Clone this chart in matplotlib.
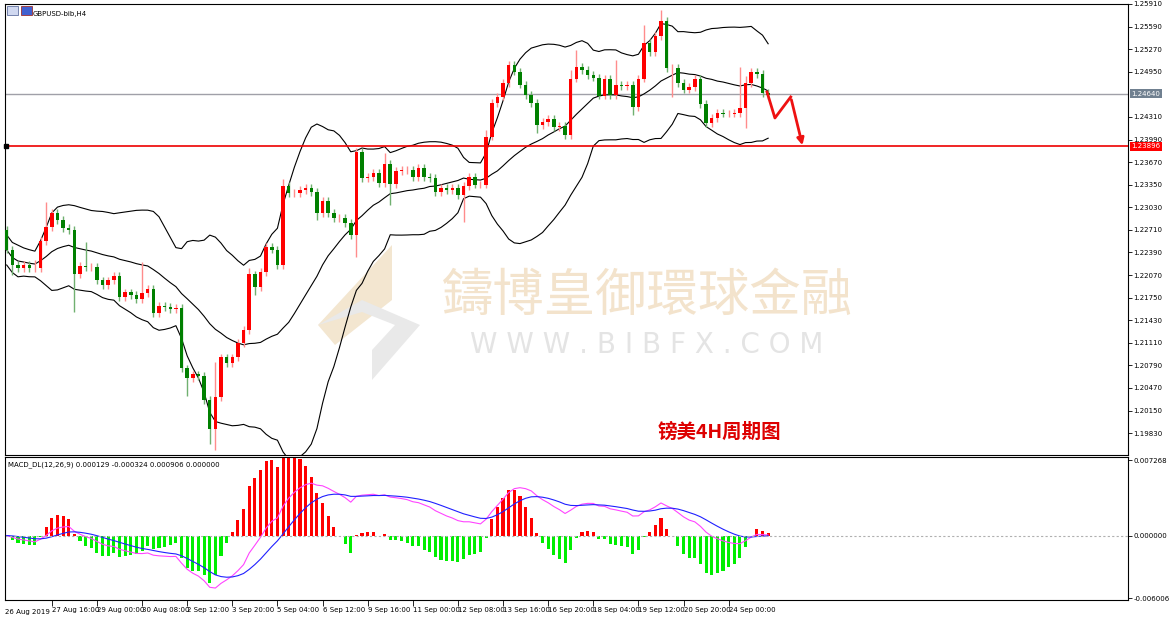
import matplotlib
matplotlib.use("Agg")
import matplotlib.pyplot as plt
from matplotlib.patches import Polygon
import numpy as np
import pandas as pd

first_open = 1.22708
closes = [1.22425,1.22212,1.22169,1.22212,1.22169,1.22169,1.22552,1.22750,1.22949,1.22850,
          1.22736,1.22708,1.22084,1.22198,1.22184,1.22184,1.21999,1.21929,1.21999,1.22056,
          1.21759,1.21829,1.21787,1.21730,1.21815,1.21872,1.21532,1.21631,1.21617,1.21588,
          1.21603,1.20752,1.20611,1.20667,1.20639,1.20299,1.19888,1.20342,1.20908,1.20823,
          1.20908,1.21107,1.21291,1.22084,1.21900,1.22113,1.22467,1.22425,1.22212,1.23331,
          1.23232,1.23232,1.23275,1.23303,1.23246,1.22949,1.23119,1.22949,1.22878,1.22878,
          1.22807,1.22637,1.23813,1.23445,1.23459,1.23516,1.23374,1.23643,1.23360,1.23544,
          1.23558,1.23558,1.23459,1.23586,1.23459,1.23445,1.23246,1.23303,1.23275,1.23303,
          1.23204,1.23331,1.23459,1.23346,1.23346,1.24026,1.24507,1.24593,1.24791,1.25046,
          1.24947,1.24763,1.24621,1.24507,1.24196,1.24238,1.24281,1.24167,1.24182,1.24054,
          1.24848,1.25018,1.24975,1.24904,1.24862,1.24607,1.24848,1.24621,1.24763,1.24748,
          1.24763,1.24451,1.24848,1.25358,1.25230,1.25457,1.25669,1.25003,1.25003,1.24791,
          1.24692,1.24734,1.24848,1.24493,1.24224,1.24295,1.24366,1.24352,1.24352,1.24366,
          1.24437,1.24791,1.24947,1.24918,1.24649,1.24621]
# wick lengths in pips (read approximately)
upper_wick = {7: 35, 14: 34, 24: 44, 37: 49, 43: 8, 49: 10, 62: 6, 67: 15, 85: 10,
              101: 24, 108: 35, 113: 25, 116: 15, 130: 58, 131: 10, 5: 12, 100: 12}
lower_wick = {12: 54, 32: 25, 36: 21, 37: 30, 62: 31, 68: 30, 81: 38, 118: 41,
              131: 28, 1: 14, 44: 12, 55: 10, 94: 12, 111: 12}
default_wick = 5

tick_idx = [8 + 8 * k for k in range(16)]
tick_labels = ["27 Aug 16:00", "29 Aug 00:00", "30 Aug 08:00", "2 Sep 12:00", "3 Sep 20:00",
               "5 Sep 04:00", "6 Sep 12:00", "9 Sep 16:00", "11 Sep 00:00", "12 Sep 08:00",
               "13 Sep 16:00", "16 Sep 20:00", "18 Sep 04:00", "19 Sep 12:00", "20 Sep 20:00",
               "24 Sep 00:00"]
price_ticks = [1.25910,1.25590,1.25270,1.24950,1.24310,1.23990,1.23670,1.23350,1.23030,
               1.22710,1.22390,1.22070,1.21750,1.21430,1.21110,1.20790,1.20470,1.20150,1.19830]
current_price = 1.24640
level_price = 1.23896
arrow_x = [134.8, 136.2, 139.0, 141.2]
arrow_y = [1.24663, 1.24295, 1.24593, 1.23870]

n = len(closes)
opens = [first_open] + closes[:-1]
highs = [max(o, c) + upper_wick.get(i, default_wick) * 1e-4 for i, (o, c) in enumerate(zip(opens, closes))]
lows = [min(o, c) - lower_wick.get(i, default_wick) * 1e-4 for i, (o, c) in enumerate(zip(opens, closes))]

s = pd.Series(closes)
mid = s.rolling(20, min_periods=1).mean()
sd = s.rolling(20, min_periods=2).std(ddof=0).bfill()
upper = mid + 2 * sd
lower = mid - 2 * sd
ema12 = s.ewm(span=12, adjust=False).mean()
ema26 = s.ewm(span=26, adjust=False).mean()
macd = ema12 - ema26
signal = macd.ewm(span=9, adjust=False).mean()
hist = 3 * (macd - signal)

W, H = 1170, 621
fig = plt.figure(figsize=(W / 100, H / 100), dpi=100)
fig.patch.set_facecolor("white")
ax = fig.add_axes([5 / W, (H - 455) / H, 1123 / W, 451 / H])
ax2 = fig.add_axes([5 / W, (H - 600) / H, 1123 / W, 143 / H])
xmax = 198.8
for a in (ax, ax2):
    a.set_xlim(-0.3, xmax)
    for sp in a.spines.values():
        sp.set_linewidth(0.8)
        sp.set_color("black")

ax.set_ylim(1.19520, 1.25910)
x = np.arange(n)
for i in range(n):
    up = closes[i] >= opens[i]
    col = "#ff0000" if up else "#008000"
    wc = "#ff8c8c" if up else "#70b070"
    ax.vlines(i, lows[i], highs[i], color=wc, lw=1, zorder=2)
    b = abs(closes[i] - opens[i])
    ax.bar(i, max(b, 0.00006), bottom=min(opens[i], closes[i]), width=0.62, color=col, zorder=3, lw=0)
ax.plot(x, upper, color="black", lw=0.8, zorder=1)
ax.plot(x, mid, color="black", lw=0.8, zorder=1)
ax.plot(x, lower, color="black", lw=0.8, zorder=1)
ax.axhline(current_price, color="#a0a0a8", lw=1, zorder=0)
ax.axhline(level_price, color="#ee0000", lw=1.2, zorder=4)
ax.plot([-0.1], [level_price], marker="s", color="black", ms=3, zorder=5, clip_on=False)
ax.plot(arrow_x[:-1], arrow_y[:-1], color="#ee1111", lw=2, zorder=6)
ax.annotate("", xy=(arrow_x[-1], arrow_y[-1]), xytext=(arrow_x[-2], arrow_y[-2]),
            arrowprops=dict(arrowstyle="-|>", color="#ee1111", lw=2, mutation_scale=10), zorder=6)

FS = 5
ax.yaxis.tick_right()
ax.set_yticks(price_ticks)
ax.set_yticklabels([f"{p:.5f}" for p in price_ticks], fontsize=FS)
ax.tick_params(axis="y", length=3, pad=1, width=0.6)
ax.set_xticks([])
ax.text(1.003, current_price, f"{current_price:.5f}", transform=ax.get_yaxis_transform(),
        fontsize=FS, color="white", va="center", ha="left", zorder=10,
        bbox=dict(boxstyle="square,pad=0.2", fc="#708090", ec="none"))
ax.text(1.003, level_price, f"{level_price:.5f}", transform=ax.get_yaxis_transform(),
        fontsize=FS, color="white", va="center", ha="left", zorder=10,
        bbox=dict(boxstyle="square,pad=0.2", fc="#ff0000", ec="none"))
ax.text(28 / 1123, 0.985, "GBPUSD-bib,H4", transform=ax.transAxes, fontsize=FS, va="top")
ax.add_patch(Polygon([[0.002, 0.975], [0.012, 0.975], [0.012, 0.995], [0.002, 0.995]],
                     closed=True, transform=ax.transAxes, fc="#d0d8f0", ec="#6070a0", lw=0.6))
ax.add_patch(Polygon([[0.014, 0.975], [0.024, 0.975], [0.024, 0.995], [0.014, 0.995]],
                     closed=True, transform=ax.transAxes, fc="#4060d0", ec="#a03030", lw=0.6))

# watermark
fx = lambda px: (px - 5) / 1123
fy = lambda py: (455 - py) / 451
ax.text(fx(647), fy(296), "鑄博皇御環球金融", transform=ax.transAxes, ha="center", va="center",
        fontsize=37, color="#f3e3cc", family=["Noto Sans CJK TC", "DejaVu Sans"], zorder=0.5)
ax.text(fx(647), fy(345), "W W W . B I B F X . C O M", transform=ax.transAxes, ha="center",
        va="center", fontsize=20, color="#e4e4e4", family="DejaVu Sans", zorder=0.5)
ax.add_patch(Polygon([[fx(392), fy(245)], [fx(392), fy(300)], [fx(335), fy(345)], [fx(318), fy(325)]],
                     closed=True, transform=ax.transAxes, fc="#f3e6d0", ec="none", zorder=0.5))
ax.add_patch(Polygon([[fx(318), fy(325)], [fx(362), fy(300)], [fx(420), fy(325)], [fx(372), fy(380)],
                      [fx(372), fy(350)], [fx(395), fy(325)], [fx(362), fy(312)]],
                     closed=True, transform=ax.transAxes, fc="#e9e9e9", ec="none", zorder=0.5))
ax.text(fx(658), fy(432), "镑美4H周期图", transform=ax.transAxes, ha="left", va="center",
        fontsize=14, color="#dd0000", fontweight="bold", family=["Noto Sans CJK SC", "DejaVu Sans"])

# MACD
ax2.set_ylim(-0.006198, 0.007557)
colors = ["#ff0000" if v >= 0 else "#00ee00" for v in hist]
ax2.bar(x, hist, width=0.55, color=colors, lw=0)
ax2.plot(x, macd, color="#ff44ff", lw=0.8)
ax2.plot(x, signal, color="#2020ff", lw=0.8)
ax2.axhline(0, color="#b0b0b0", lw=0.8, ls=(0, (2, 2)))
ax2.yaxis.tick_right()
ax2.set_yticks([0.007268, 0.0, -0.006006])
ax2.set_yticklabels(["0.007268", "0.000000", "-0.006006"], fontsize=FS)
ax2.tick_params(axis="y", length=3, pad=1, width=0.6)
ax2.set_xticks(tick_idx)
ax2.set_xticklabels(tick_labels, fontsize=FS, ha="left")
ax2.tick_params(axis="x", length=4, pad=1, width=0.6)
ax2.text(0.0, -0.06, "26 Aug 2019", transform=ax2.transAxes, fontsize=FS, va="top", ha="left")
ax2.text(0.003, 0.97, "MACD_DL(12,26,9) 0.000129 -0.000324 0.000906 0.000000",
         transform=ax2.transAxes, fontsize=FS, va="top")

fig.savefig("out.png", dpi=100)
